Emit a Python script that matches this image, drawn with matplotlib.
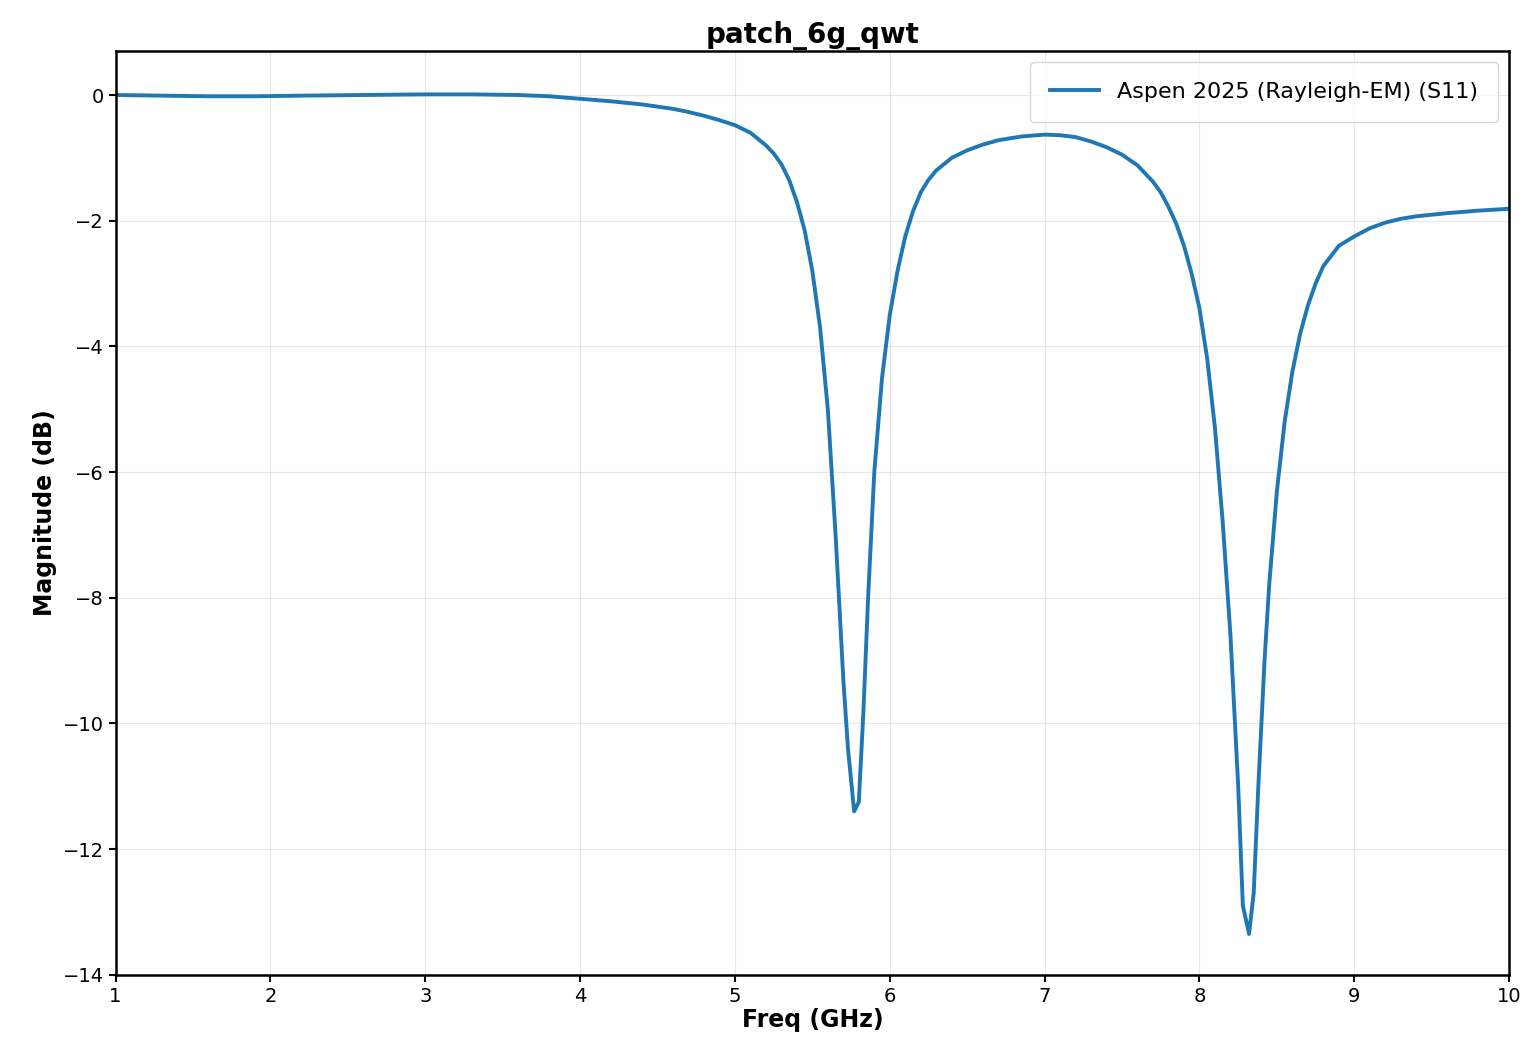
import matplotlib
matplotlib.use('Agg')
import matplotlib.pyplot as plt

# S11
freq_ghz = [1.0, 1.3, 1.6, 1.9, 2.2, 2.6, 3.0, 3.3, 3.6, 3.8, 4.0, 4.2, 4.4, 4.6, 4.7,
            4.8, 4.9, 5.0, 5.1, 5.2, 5.25, 5.3, 5.35, 5.4, 5.45, 5.5, 5.55,
            5.6, 5.65, 5.7, 5.73, 5.77, 5.8, 5.83, 5.86, 5.9, 5.95, 6.0, 6.05, 6.1,
            6.15, 6.2, 6.25, 6.3, 6.4, 6.5, 6.6, 6.7, 6.85, 7.0, 7.1, 7.2, 7.3, 7.4,
            7.5, 7.6, 7.7, 7.75, 7.8, 7.85, 7.9, 7.95, 8.0, 8.05, 8.1,
            8.15, 8.2, 8.25, 8.28, 8.32, 8.35, 8.38, 8.42, 8.45, 8.5, 8.55, 8.6,
            8.65, 8.7, 8.75, 8.8, 8.9, 9.0, 9.1, 9.2, 9.3, 9.4, 9.6, 9.8, 10.0]
s11_db = [0.0, -0.01, -0.02, -0.02, -0.01, 0.0, 0.01, 0.01, 0.0, -0.02, -0.06, -0.1,
          -0.15, -0.22, -0.27, -0.33, -0.4, -0.48, -0.6, -0.8, -0.93, -1.1, -1.35,
          -1.7, -2.15, -2.8, -3.7, -5.0, -7.0, -9.3, -10.4, -11.4, -11.25, -9.8,
          -8.0, -6.0, -4.5, -3.5, -2.8, -2.25, -1.85, -1.55, -1.35, -1.2, -1.0,
          -0.88, -0.79, -0.72, -0.66, -0.63, -0.64, -0.67, -0.74, -0.83, -0.95,
          -1.12, -1.38, -1.55, -1.78, -2.05, -2.4, -2.85, -3.4, -4.2, -5.3, -6.8,
          -8.6, -11.0, -12.9, -13.35, -12.7, -11.0, -9.0, -7.8, -6.3, -5.2, -4.4,
          -3.8, -3.35, -3.0, -2.72, -2.4, -2.25, -2.12, -2.03, -1.97, -1.93, -1.88,
          -1.84, -1.81]

fig, ax = plt.subplots(figsize=(15.4, 10.63), dpi=100)
ax.plot(freq_ghz, s11_db, color='#1f77b4', linewidth=2.8,
        label='Aspen 2025 (Rayleigh-EM) (S11)')
ax.set_xlim(1, 10)
ax.set_ylim(-14, 0.7)
ax.set_xticks(range(1, 11))
ax.set_yticks(range(-14, 1, 2))
ax.tick_params(labelsize=14, width=1.5, length=5)
ax.grid(alpha=0.3)
for s in ax.spines.values():
    s.set_linewidth(1.8)
ax.set_xlabel('Freq (GHz)', fontsize=17, fontweight='bold', labelpad=2)
ax.set_ylabel('Magnitude (dB)', fontsize=17, fontweight='bold')
ax.set_title('patch_6g_qwt', fontsize=20, fontweight='bold', pad=6)
ax.legend(fontsize=16, loc='upper right', borderpad=0.9, handlelength=2.2)
fig.subplots_adjust(left=0.075, right=0.98, top=0.952, bottom=0.083)
fig.savefig('out.png')
